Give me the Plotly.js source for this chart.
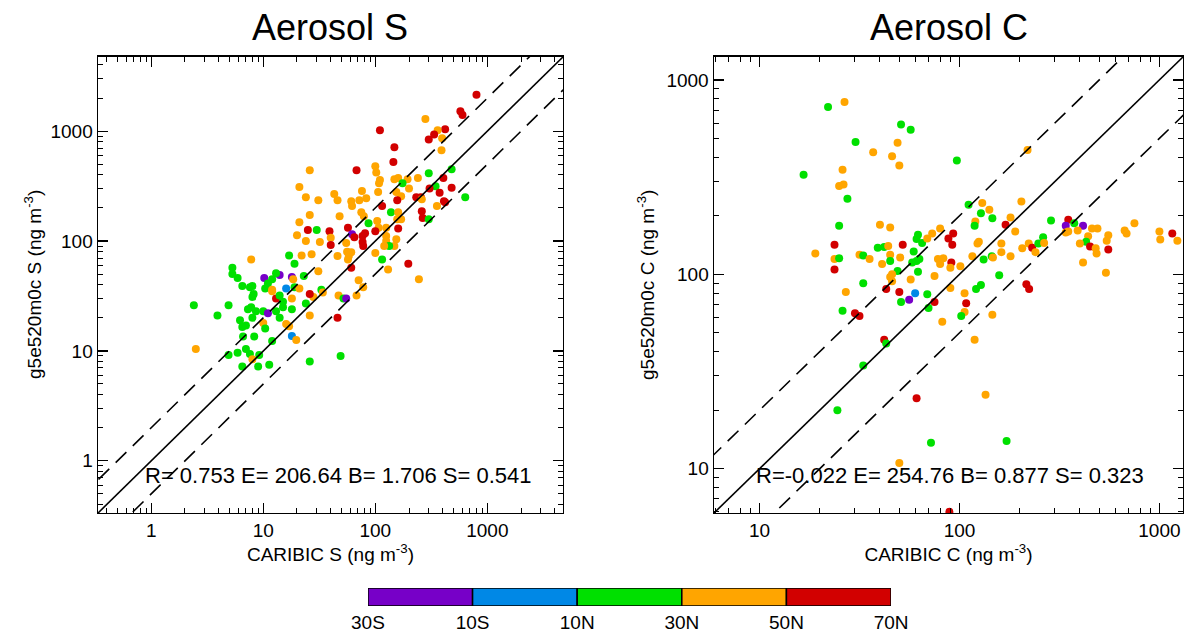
<!DOCTYPE html>
<html>
<head>
<meta charset="utf-8">
<script src="https://cdn.plot.ly/plotly-3.0.1.min.js"></script>
<style>html,body{margin:0;padding:0;background:#fff;}#chart{width:1197px;height:636px;}</style>
</head>
<body>
<div id="chart"></div>
<script>
// Latitude bands (colour legend)
const bandLabels = ['30S', '10S', '10N', '30N', '50N', '70N'];
const bandMid = [-20, 0, 20, 40, 60];
const bandColors = ['#7700c8', '#0088e6', '#00e000', '#ffa500', '#d20000'];

// Panel 1: Aerosol S  (CARIBIC obs, model g5e520m0c, band index)
const caribicS = [800,575,600,280,110,420,360,335,300,395,148,390,145,26,68,100,102,110,108,148,160,194,240,300,480,175,405,480,200,345,305,375,410,635,21,24,31,43,46,61,62,72,83,76,106,154,170,157,232,255,260,115,26,21,48,75,79,104,138,160,157,170,260,265,355,300,87,420,107,125,160,25,30,39,20,57,62,65,77,81,100,77,78,40,40,32,24,55,56,58,57,61,46,61,125,125,154,148,133,120,100,27,22,17,19,115,130,197,245,31,71,78,10.2,14,18,13,12,11,8,10.4,12,16,19,21,18.5,33,34,28,26,13,8,14,15,18,47,52,55,68,24,7.8,15,18,8.6,10,11,13,8,14,26,46,10,7.8,5.3,5.3,5.9,6.5,7.6,8.2,2.4,3.9,4.9,7.3,6.2,7,6.5,6.6,8.3,10.4,7,7.6,9.2,5.9,4.9,8,6.5,9,11.3,26,49,2.5,18,19.7,12,16,17,23,12];
const modelS = [2150,1515,1400,1290,1020,1040,1020,930,840,860,715,670,525,440,440,480,420,360,335,365,375,365,375,415,450,335,375,305,300,315,300,275,230,250,310,250,235,268,235,230,208,235,245,285,280,280,255,235,250,250,240,208,173,148,168,183,168,152,183,183,158,158,187,162,208,158,145,225,132,132,130,126,126,123,113,132,115,108,111,118,123,98,90,107,92,98,100,96,80,73,68,79,73,57,111,100,104,90,90,90,78,76,74,74,62,68,55,62,45,53,44,38,46,49,47,51,45,41,39,37,36,37,38,37,45,36,34,31,33,30,31,32,28,30,32,30,30,32,27,25,25,24,23,23,22,23,20,20,21,20,18,68,57,50,46,39,38,33,26,21,26,24,19,17,16.5,13.5,13.5,16,10.4,9.4,9.2,9.6,9.2,8.4,7.2,7.2,7.5,8,9,10.4,13.7,12.6,12.3,17.6,16.8,48,35];
const latS = [4,4,4,3,4,4,3,4,4,3,4,3,4,3,4,3,3,3,3,3,3,3,3,2,2,2,4,4,3,2,4,4,4,2,3,3,3,3,3,3,3,3,3,3,3,3,3,4,4,4,3,4,3,3,3,3,3,3,2,3,3,3,4,4,3,2,2,4,3,3,4,4,2,4,3,4,0,4,4,4,4,4,4,3,4,3,3,3,3,3,3,3,3,4,3,3,3,3,2,3,3,3,3,2,2,2,3,4,3,3,3,3,0,0,0,2,2,2,2,2,3,1,2,3,3,2,3,3,4,4,2,2,2,3,3,2,0,3,2,2,2,2,2,2,0,2,2,2,3,4,3,3,2,2,2,2,2,2,2,2,2,2,2,2,2,2,2,2,2,2,2,2,2,3,2,2,2,2,2,3,1,3,2,3,3,2,3,3];
const statsS = 'R= 0.753 E= 206.64 B= 1.706 S= 0.541';

// Panel 2: Aerosol C
const caribicC = [22,26.6,51,57,30.2,49,37,46,50,97,26,16.6,25,26.3,27.5,25,40,45,23.7,19,23.7,25,23.7,39,42,44,52,31.6,33,35.5,45,45,41,50.5,59,62,61,65,69,73,80,88,93,92,58,61,63,62,78,80,91,90,49,46,75,33,27,26,30,31.6,45,46,43,50,60,56,51,69,75,70,57,90,82,111,130,141,128,204,120,119,146,170,180,190,287,350,340,375,415,340,350,390,460,490,440,555,545,430,400,450,480,485,555,415,540,750,670,685,1000,1010,1160,1230,125,123,162,162,180,206,222,231,240,248,262,265,132,145,147,116,83,101,158,128,121,106,216,223,108,106,102,146,42,43,33,119,61,135,24.5,72,172,50,89,219];
const modelC = [725,770,590,555,480,475,425,405,363,385,345,325,285,290,245,178,180,174,142,128,120,121,106,137,138,140,142,126,125,120,126,117,113,122,131,160,152,145,153,162,172,153,162,142,115,117,120,103,120,113,115,108,104,100,98,90,81,65,63,61,97,92,84,81,80,74,72,79,72,67,94,85,57,228,233,215,206,237,187,178,194,180,196,166,189,191,178,183,178,164,166,168,172,172,157,159,149,147,144,139,136,128,134,115,102,183,168,162,166,151,162,149,147,144,144,130,124,136,144,137,130,144,155,145,119,124,122,124,121,110,99,88,84,80,89,84,71,64,61,62,46,44,34,46,23,24,20,13.6,13.9,10.7,6.0,436];
const latC = [2,3,2,2,2,3,3,3,3,2,3,2,3,3,2,2,3,3,4,3,3,2,4,2,2,3,4,3,2,3,3,2,3,3,2,2,2,2,3,3,3,4,4,4,2,2,2,2,3,3,4,3,2,3,3,2,3,2,4,4,3,3,4,4,1,0,2,2,4,2,3,3,3,2,3,3,2,3,3,2,2,4,3,3,2,4,0,2,0,3,3,3,3,3,3,3,3,2,3,4,3,3,4,3,3,3,3,3,3,3,4,3,3,3,3,3,3,3,3,4,3,2,2,3,2,2,3,3,3,3,2,2,2,3,4,4,4,3,2,3,4,2,2,3,4,3,2,2,2,3,4,3];
const statsC = 'R=-0.022 E= 254.76 B= 0.877 S= 0.323';

const FONT = 'Liberation Sans, Arial, Helvetica, sans-serif';
const lineX = [0.01, 100000];

function refLines(xa, ya) {
  const mk = (f, dash) => ({
    x: lineX, y: lineX.map(v => v * f), xaxis: xa, yaxis: ya,
    mode: 'lines', type: 'scatter', hoverinfo: 'skip', showlegend: false,
    line: {color: '#000', width: 1.6, dash: dash}
  });
  return [mk(1, 'solid'), mk(2, '15px,9px'), mk(0.5, '15px,9px')];
}
function pts(xs, ys, lat, xa, ya) {
  return {
    x: xs, y: ys, xaxis: xa, yaxis: ya, type: 'scatter', mode: 'markers',
    showlegend: false,
    marker: {size: 8, color: lat.map(b => bandColors[b]), line: {width: 0}}
  };
}

const traces = [
  pts(caribicS, modelS, latS, 'x', 'y'),
  ...refLines('x', 'y'),
  pts(caribicC, modelC, latC, 'x2', 'y2'),
  ...refLines('x2', 'y2'),
  {
    x: bandMid, y: bandMid.map(() => 1), width: bandMid.map(() => 20),
    type: 'bar', xaxis: 'x3', yaxis: 'y3', showlegend: false, hoverinfo: 'skip',
    marker: {color: bandColors, line: {color: '#000', width: 1.5}}
  }
];

function logAxis(dom, rng, vals, title, anchor) {
  const ax = {
    type: 'log', domain: dom, range: rng, anchor: anchor,
    showline: true, linecolor: '#000', linewidth: 1.5, mirror: 'allticks',
    ticks: 'inside', ticklen: 10, tickwidth: 1.3, tickcolor: '#000',
    tickmode: 'array', tickvals: vals, ticktext: vals.map(String),
    tickfont: {family: FONT, size: 19, color: '#000'},
    showgrid: false, zeroline: false,
    minor: {dtick: 'D1', ticks: 'inside', ticklen: 5, tickwidth: 1, tickcolor: '#000', showgrid: false}
  };
  if (title) ax.title = {text: title, font: {family: FONT, size: 19, color: '#000'}, standoff: 2};
  return ax;
}

const dec = [1, 10, 100, 1000];
const layout = {
  width: 1197, height: 636,
  margin: {l: 0, r: 0, t: 0, b: 0},
  paper_bgcolor: '#fff', plot_bgcolor: '#fff',
  font: {family: FONT, color: '#000'},
  xaxis: logAxis([0.0819, 0.4703], [-0.475, 3.675], dec, 'CARIBIC S (ng m<sup>-3</sup>)', 'y'),
  yaxis: logAxis([0.1934, 0.9104], [-0.475, 3.675], dec, null, 'x'),
  xaxis2: logAxis([0.5965, 0.9883], [0.772, 3.118], [10, 100, 1000], 'CARIBIC C (ng m<sup>-3</sup>)', 'y2'),
  yaxis2: logAxis([0.1934, 0.9104], [0.772, 3.118], [10, 100, 1000], null, 'x2'),
  xaxis3: {
    domain: [0.3074, 0.7444], range: [-30, 70], anchor: 'y3',
    tickmode: 'array', tickvals: [-30, -10, 10, 30, 50, 70], ticktext: bandLabels,
    ticks: '', showline: false, showgrid: false, zeroline: false, ticklabelstandoff: 3,
    tickfont: {family: FONT, size: 19, color: '#000'}
  },
  yaxis3: {domain: [0.0472, 0.0755], range: [0, 1], anchor: 'x3', visible: false},
  bargap: 0,
  annotations: [
    {text: 'Aerosol S', xref: 'paper', yref: 'paper', x: 0.2761, y: 0.956, xanchor: 'center', yanchor: 'middle', showarrow: false, font: {family: FONT, size: 36, color: '#000'}},
    {text: 'Aerosol C', xref: 'paper', yref: 'paper', x: 0.7924, y: 0.956, xanchor: 'center', yanchor: 'middle', showarrow: false, font: {family: FONT, size: 36, color: '#000'}},
    {text: 'g5e520m0c S (ng m<sup>-3</sup>)', textangle: -90, xref: 'paper', yref: 'paper', x: 0.0276, y: 0.552, xanchor: 'center', yanchor: 'middle', showarrow: false, font: {family: FONT, size: 19, color: '#000'}},
    {text: 'g5e520m0c C (ng m<sup>-3</sup>)', textangle: -90, xref: 'paper', yref: 'paper', x: 0.5397, y: 0.552, xanchor: 'center', yanchor: 'middle', showarrow: false, font: {family: FONT, size: 19, color: '#000'}},
    {text: statsS, xref: 'x domain', yref: 'y domain', x: 0.097, y: 0.083, xanchor: 'left', yanchor: 'middle', showarrow: false, font: {family: FONT, size: 22, color: '#000'}},
    {text: statsC, xref: 'x2 domain', yref: 'y2 domain', x: 0.086, y: 0.083, xanchor: 'left', yanchor: 'middle', showarrow: false, font: {family: FONT, size: 22, color: '#000'}}
  ]
};

Plotly.newPlot('chart', traces, layout, {displayModeBar: false, staticPlot: true});
</script>
</body>
</html>
